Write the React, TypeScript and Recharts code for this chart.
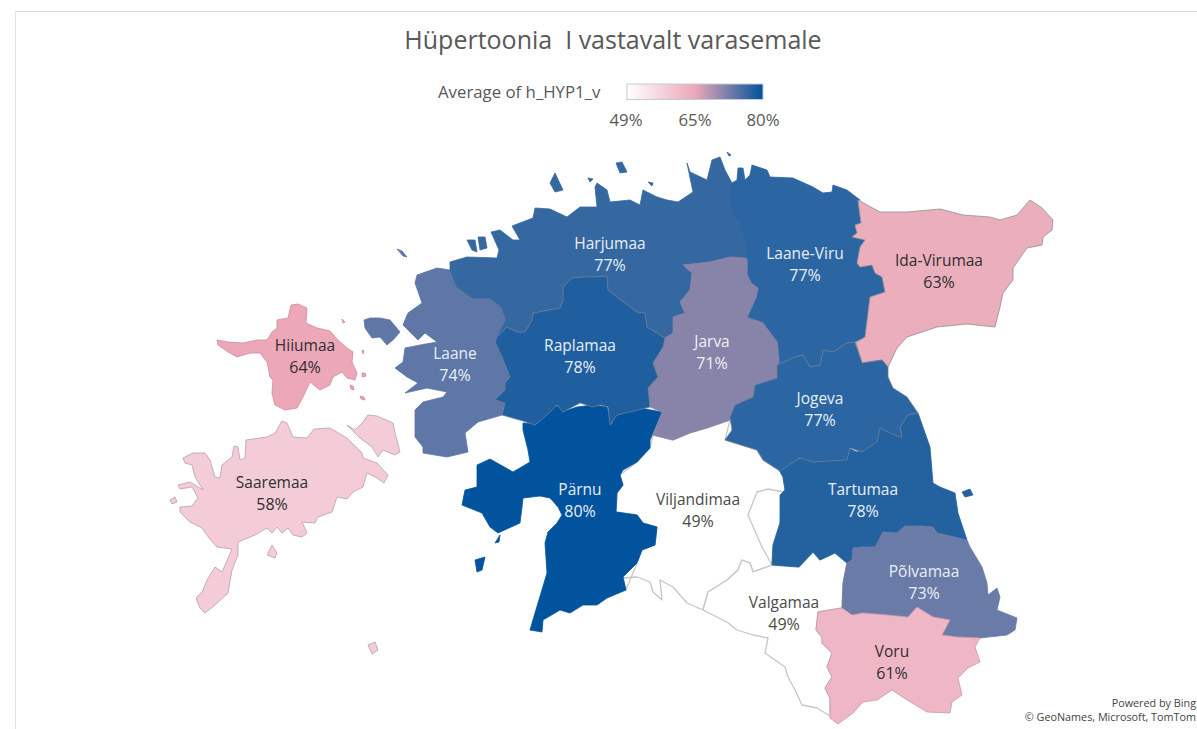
import { ScatterChart, Scatter, XAxis, YAxis } from 'recharts';

const WIDTH = 1197;
const HEIGHT = 729;
const FONT = '"Open Sans", "Noto Sans", sans-serif';

// county outlines (map units = screen px)
const viljandimaa = [[653,435],[673,440],[690,433],[707,428],[730,420],[725,440],[757,450],[763,460],[780,471],[783,477],[785,490],[780,495],[780,523],[773,545],[772,565],[753,572],[750,563],[742,560],[738,570],[727,580],[708,592],[703,610],[687,603],[673,587],[660,580],[662,600],[653,592],[650,582],[637,577],[623,578],[626,590],[637,563],[642,550],[655,545],[657,527],[643,523],[637,515],[616,512],[617,493],[623,485],[620,475],[637,462],[650,448]];
const vortsjarv = [[772,565],[762,547],[748,515],[757,492],[768,489],[783,492],[780,523],[773,545]];
const valgamaa = [[703,610],[708,592],[727,580],[738,570],[742,560],[750,563],[753,572],[772,565],[799,567],[813,552],[820,560],[835,553],[847,563],[843,583],[842,608],[818,612],[816,630],[822,637],[822,643],[832,653],[827,667],[832,677],[825,688],[830,698],[830,716],[817,708],[802,705],[795,690],[788,677],[785,667],[765,653],[768,638],[753,635],[737,630],[727,622]];
const hiiumaa = [[217,340],[228,342],[243,343],[257,340],[267,340],[272,332],[277,328],[277,320],[288,318],[291,305],[298,304],[307,308],[306,323],[317,328],[330,331],[338,340],[347,348],[353,352],[352,362],[357,373],[355,380],[347,378],[342,372],[333,377],[330,385],[320,390],[310,382],[303,397],[297,408],[285,410],[275,405],[272,393],[273,380],[270,377],[267,362],[260,353],[250,353],[237,357],[228,352],[218,345]];
const hiiumaaIslet1 = [[362,373],[365,373],[366,376],[362,377]];
const hiiumaaIslet2 = [[350,385],[353,386],[354,390],[351,389]];
const hiiumaaIslet3 = [[360,396],[364,397],[365,400],[361,399]];
const hiiumaaIslet4 = [[362,350],[364,351],[363,354]];
const hiiumaaIslet5 = [[345,322],[342,319],[343,323]];
const saaremaa = [[183,458],[193,453],[205,453],[210,460],[215,477],[220,478],[222,465],[232,457],[234,446],[238,447],[240,460],[245,458],[246,440],[267,437],[275,433],[282,421],[287,423],[293,437],[307,438],[314,429],[330,428],[347,438],[362,453],[363,458],[377,463],[388,475],[384,483],[377,478],[367,473],[363,487],[353,492],[347,499],[337,497],[332,512],[318,517],[315,523],[302,522],[307,533],[302,537],[293,535],[288,528],[282,533],[277,527],[272,533],[267,528],[255,535],[238,542],[238,555],[232,570],[228,593],[215,605],[205,613],[200,608],[196,598],[202,592],[207,580],[215,567],[222,572],[232,549],[217,547],[209,538],[202,528],[190,522],[180,512],[180,507],[192,506],[198,498],[192,487],[180,489],[178,485],[190,482],[203,490],[195,477],[192,465],[185,463]];
const muhu = [[347,425],[355,430],[363,422],[368,415],[377,416],[393,423],[395,433],[400,452],[395,455],[390,453],[383,450],[378,457],[372,447],[360,438]];
const abruka = [[272,545],[277,553],[275,558],[267,555]];
const ruhnu = [[368,645],[375,642],[378,650],[372,654]];
const vilsandi = [[170,500],[175,497],[177,502],[172,504]];
const laane = [[450,270],[437,268],[417,275],[415,283],[422,303],[408,313],[405,320],[403,325],[418,340],[425,333],[437,342],[420,345],[405,348],[403,362],[395,368],[407,377],[418,383],[405,393],[427,388],[447,392],[443,397],[423,402],[415,410],[415,437],[423,447],[423,453],[447,457],[468,452],[465,433],[478,422],[502,415],[505,403],[495,400],[505,390],[505,383],[510,377],[502,357],[495,342],[497,337],[506,320],[502,308],[490,298],[472,298],[457,287]];
const vormsi = [[364,320],[370,318],[380,318],[390,320],[400,332],[393,340],[387,345],[380,337],[372,338],[365,328]];
const laaneIslet = [[397,249],[402,251],[407,257],[403,256]];
const harjumaa = [[450,262],[467,257],[497,258],[499,250],[491,232],[500,230],[513,240],[520,240],[512,226],[533,218],[535,208],[550,209],[567,217],[580,207],[597,207],[595,187],[597,183],[607,190],[610,202],[630,200],[640,205],[643,190],[657,197],[667,200],[678,202],[693,192],[687,163],[690,172],[707,180],[712,160],[720,157],[725,170],[732,183],[728,197],[735,218],[740,220],[740,230],[745,240],[748,260],[745,258],[730,257],[710,262],[683,265],[692,273],[690,290],[680,302],[685,313],[673,317],[673,333],[665,338],[647,327],[645,313],[637,312],[625,303],[608,290],[607,276],[593,277],[583,277],[572,278],[563,287],[563,300],[560,308],[533,313],[532,320],[525,332],[517,332],[507,327],[497,337],[506,320],[502,308],[490,298],[472,298],[457,287],[450,270]];
const naissaar = [[550,183],[555,173],[563,190],[555,192]];
const aegna = [[616,163],[622,162],[627,172],[620,173]];
const pakri1 = [[467,240],[475,240],[477,252],[472,250]];
const pakri2 = [[478,237],[485,237],[487,248],[480,250]];
const harjuIslet = [[588,178],[593,179],[590,182]];
const harjuIslet2 = [[648,182],[653,183],[652,186]];
const raplamaa = [[497,337],[507,327],[517,332],[525,332],[532,320],[533,313],[560,308],[563,300],[563,287],[572,278],[583,277],[593,277],[607,276],[608,290],[625,303],[637,312],[645,313],[647,327],[665,338],[663,347],[653,363],[658,377],[648,388],[650,407],[630,412],[617,415],[610,425],[608,407],[600,405],[593,407],[580,403],[563,412],[557,405],[547,415],[535,425],[523,421],[502,415],[505,403],[495,400],[505,390],[505,383],[510,377],[502,357],[495,342]];
const parnu = [[523,423],[537,424],[548,410],[560,405],[562,412],[577,407],[593,405],[607,407],[612,425],[615,413],[640,408],[662,412],[650,440],[650,448],[637,462],[623,470],[620,475],[623,485],[617,493],[616,512],[637,515],[643,523],[657,527],[655,545],[642,550],[637,563],[623,577],[626,590],[607,598],[597,605],[583,605],[570,613],[560,610],[543,620],[542,632],[530,630],[535,613],[547,573],[545,543],[548,532],[557,523],[562,515],[558,507],[550,498],[540,496],[523,498],[522,507],[520,523],[498,533],[490,527],[482,513],[462,505],[465,490],[477,487],[477,465],[490,459],[513,472],[530,462],[528,450],[523,430]];
const kihnu = [[475,560],[485,557],[482,570],[477,572]];
const manija = [[495,543],[500,535],[499,542]];
const jarva = [[683,265],[710,262],[730,257],[745,258],[748,260],[748,275],[752,283],[759,288],[757,297],[748,317],[763,322],[778,342],[780,363],[777,378],[755,385],[753,397],[735,405],[730,420],[707,428],[690,433],[673,440],[653,435],[662,412],[650,407],[648,388],[658,377],[653,363],[663,347],[665,338],[673,333],[673,317],[685,313],[680,302],[690,290],[692,273]];
const laaneViru = [[732,183],[737,180],[738,168],[743,168],[745,180],[750,175],[752,165],[767,170],[770,177],[793,178],[813,187],[823,193],[832,192],[833,185],[847,190],[860,200],[858,203],[861,223],[855,225],[857,233],[852,237],[865,240],[860,247],[857,263],[860,267],[872,265],[875,273],[882,277],[885,292],[870,297],[868,313],[865,337],[855,342],[847,343],[833,352],[823,350],[820,365],[810,367],[803,355],[795,357],[777,365],[780,363],[778,342],[763,322],[748,317],[757,297],[759,288],[752,283],[748,275],[748,260],[745,240],[740,230],[740,220],[735,218],[728,197]];
const viruIslet = [[727,152],[731,155],[729,156]];
const idaViru = [[858,200],[880,212],[907,212],[940,209],[963,215],[990,217],[1000,220],[1017,215],[1030,200],[1042,208],[1053,220],[1052,230],[1043,237],[1042,245],[1027,248],[1013,268],[1013,280],[1003,293],[1000,307],[995,327],[967,324],[937,327],[907,337],[897,348],[888,367],[882,360],[862,363],[856,343],[865,337],[868,313],[870,297],[885,292],[882,277],[875,273],[872,265],[860,267],[857,263],[860,247],[865,240],[852,237],[857,233],[855,225],[861,223]];
const jogeva = [[855,342],[862,363],[882,360],[888,367],[888,377],[893,388],[907,397],[918,413],[908,415],[900,427],[902,438],[890,433],[880,428],[877,442],[862,452],[850,448],[847,460],[813,462],[800,458],[780,471],[763,460],[757,450],[725,440],[732,430],[730,417],[735,405],[753,397],[755,385],[777,378],[777,365],[795,357],[803,355],[810,367],[820,365],[823,350],[833,352],[847,343]];
const tartumaa = [[779,470],[790,462],[812,455],[847,460],[848,448],[857,452],[875,443],[878,428],[893,430],[902,437],[900,427],[908,415],[918,413],[930,447],[933,483],[940,487],[955,493],[958,513],[967,540],[937,533],[933,527],[920,526],[905,526],[897,533],[883,532],[875,547],[863,547],[853,548],[852,560],[847,563],[835,553],[820,560],[813,552],[799,567],[772,565],[773,545],[780,523],[780,495],[785,490],[783,477]];
const piirissaar = [[962,492],[970,489],[973,495],[965,497]];
const polvamaa = [[847,563],[852,560],[853,548],[863,547],[875,547],[883,532],[897,533],[905,526],[920,526],[933,527],[937,533],[967,540],[970,547],[982,567],[987,583],[988,595],[997,588],[1000,597],[997,610],[1017,618],[1015,630],[1007,635],[980,638],[957,637],[942,635],[950,620],[933,617],[917,607],[908,617],[887,615],[863,613],[852,615],[842,608],[843,583]];
const voru = [[842,608],[852,615],[863,613],[887,615],[908,617],[917,607],[933,617],[950,620],[942,635],[957,637],[980,638],[975,647],[980,662],[968,668],[958,678],[962,695],[952,702],[950,713],[927,712],[907,700],[892,690],[877,700],[863,702],[853,713],[838,724],[830,718],[830,698],[825,688],[832,677],[827,667],[832,653],[822,643],[822,637],[816,630],[818,612]];

// [outline, fill, stroke] in drawing order
const shapes: [number[][], string, string][] = [
  [viljandimaa, '#ffffff', '#c6c6c6'],
  [vortsjarv, '#ffffff', '#c6c6c6'],
  [valgamaa, '#ffffff', '#c6c6c6'],
  [hiiumaa, '#eca7b9', '#c98d9d'],
  [hiiumaaIslet1, '#eca7b9', '#c98d9d'],
  [hiiumaaIslet2, '#eca7b9', '#c98d9d'],
  [hiiumaaIslet3, '#eca7b9', '#c98d9d'],
  [hiiumaaIslet4, '#eca7b9', '#c98d9d'],
  [hiiumaaIslet5, '#eca7b9', '#c98d9d'],
  [saaremaa, '#f4ccd7', '#b8a0a8'],
  [muhu, '#f4ccd7', '#b8a0a8'],
  [abruka, '#f4ccd7', '#b8a0a8'],
  [ruhnu, '#f4ccd7', '#b8a0a8'],
  [vilsandi, '#f4ccd7', '#b8a0a8'],
  [laane, '#5e77a7', '#5e77a7'],
  [vormsi, '#5e77a7', '#5e77a7'],
  [laaneIslet, '#5e77a7', '#5e77a7'],
  [harjumaa, '#3567a1', '#3567a1'],
  [naissaar, '#3567a1', '#3567a1'],
  [aegna, '#3567a1', '#3567a1'],
  [pakri1, '#3567a1', '#3567a1'],
  [pakri2, '#3567a1', '#3567a1'],
  [harjuIslet, '#3567a1', '#3567a1'],
  [harjuIslet2, '#3567a1', '#3567a1'],
  [parnu, '#00539c', '#00539c'],
  [kihnu, '#00539c', '#00539c'],
  [manija, '#00539c', '#00539c'],
  [jarva, '#8883a9', '#8883a9'],
  [laaneViru, '#2b66a3', '#2b66a3'],
  [viruIslet, '#2b66a3', '#2b66a3'],
  [idaViru, '#ebaebd', '#8f8f8f'],
  [tartumaa, '#24629f', '#24629f'],
  [piirissaar, '#24629f', '#24629f'],
  [jogeva, '#2b66a3', '#6f7f92'],
  [raplamaa, '#1f5f9f', '#6f7f92'],
  [polvamaa, '#6b7ba7', '#6b7ba7'],
  [voru, '#efb6c5', '#c49aa6'],
];

const labelNames = ['Harjumaa', 'Raplamaa', 'Laane', 'Hiiumaa', 'Saaremaa', 'Pärnu', 'Viljandimaa', 'Jarva', 'Laane-Viru', 'Ida-Virumaa', 'Jogeva', 'Tartumaa', 'Põlvamaa', 'Valgamaa', 'Voru'];
const labelValues = ['77%', '78%', '74%', '64%', '58%', '80%', '49%', '71%', '77%', '63%', '77%', '78%', '73%', '49%', '61%'];
const labelX = [610, 580, 455, 305, 272, 580, 698, 712, 805, 939, 820, 863, 924, 784, 892];
const labelY = [254, 356, 364, 356, 493, 500, 510, 352, 264, 271, 409, 500, 582, 613, 662];
const labelColors = ['#e9eff7', '#e9eff7', '#e9eff7', '#2f2f2f', '#2f2f2f', '#e9eff7', '#4a4a4a', '#f0eff5', '#e9eff7', '#2f2f2f', '#e9eff7', '#e9eff7', '#e9eff7', '#4a4a4a', '#2f2f2f'];

const legendTicks = ['49%', '65%', '80%'];
const legendTickX = [626, 695, 763];

const ring = (pts: number[][]) => [...pts, pts[0]].map(([x, y]) => ({ x, y }));
const labelData = labelNames.map((name, i) => ({
  x: labelX[i],
  y: labelY[i],
  name,
  value: labelValues[i],
  color: labelColors[i],
}));

function CountyLabel(props: any) {
  const { cx, cy, payload } = props;
  return (
    <g fontFamily={FONT} fontSize={15.5} fill={payload.color} textAnchor="middle">
      <text x={cx} y={cy - 5}>{payload.name}</text>
      <text x={cx} y={cy + 17} fontSize={16}>{payload.value}</text>
    </g>
  );
}

export default function App() {
  return (
    <div style={{ position: 'absolute', left: 0, top: 0, width: WIDTH, height: HEIGHT, overflow: 'hidden', background: '#fff' }}>
      <div style={{ position: 'absolute', left: 15, top: 11, right: 0, bottom: 0, borderTop: '1px solid #d9d9d9', borderLeft: '1px solid #e4e4e4' }} />
      <div style={{ position: 'absolute', left: 0, top: 0 }}>
        <ScatterChart width={WIDTH} height={HEIGHT} margin={{ top: 0, right: 0, bottom: 0, left: 0 }}>
          <defs>
            <linearGradient id="legendScale" x1="0" y1="0" x2="1" y2="0">
              <stop offset="0%" stopColor="#ffffff" />
              <stop offset="50%" stopColor="#eca7b9" />
              <stop offset="100%" stopColor="#00539c" />
            </linearGradient>
          </defs>
          <XAxis type="number" dataKey="x" domain={[0, WIDTH]} hide />
          <YAxis type="number" dataKey="y" domain={[0, HEIGHT]} reversed hide />
          {shapes.map(([pts, fill, stroke], i) => (
            <Scatter
              key={i}
              data={ring(pts)}
              isAnimationActive={false}
              shape={() => null}
              line={{ fill, stroke, strokeWidth: fill === '#ffffff' ? 1.3 : 0.8, strokeLinejoin: 'round' }}
            />
          ))}
          <Scatter data={labelData} isAnimationActive={false} shape={CountyLabel} />
          <text x={613} y={49} textAnchor="middle" fontFamily={FONT} fontSize={25} fill="#595959">
            {'Hüpertoonia\u00a0 I vastavalt varasemale'}
          </text>
          <text x={438} y={98} fontFamily={FONT} fontSize={16.8} fill="#595959">Average of h_HYP1_v</text>
          <rect x={627} y={84} width={136} height={15.5} fill="url(#legendScale)" stroke="#c4ccd6" />
          {legendTicks.map((t, i) => (
            <text key={t} x={legendTickX[i]} y={126} textAnchor="middle" fontFamily={FONT} fontSize={16.8} fill="#595959">{t}</text>
          ))}
          <text x={1196} y={707} textAnchor="end" fontFamily={FONT} fontSize={10.8} fill="#444">Powered by Bing</text>
          <text x={1196} y={721} textAnchor="end" fontFamily={FONT} fontSize={10.8} fill="#444">© GeoNames, Microsoft, TomTom</text>
        </ScatterChart>
      </div>
    </div>
  );
}
